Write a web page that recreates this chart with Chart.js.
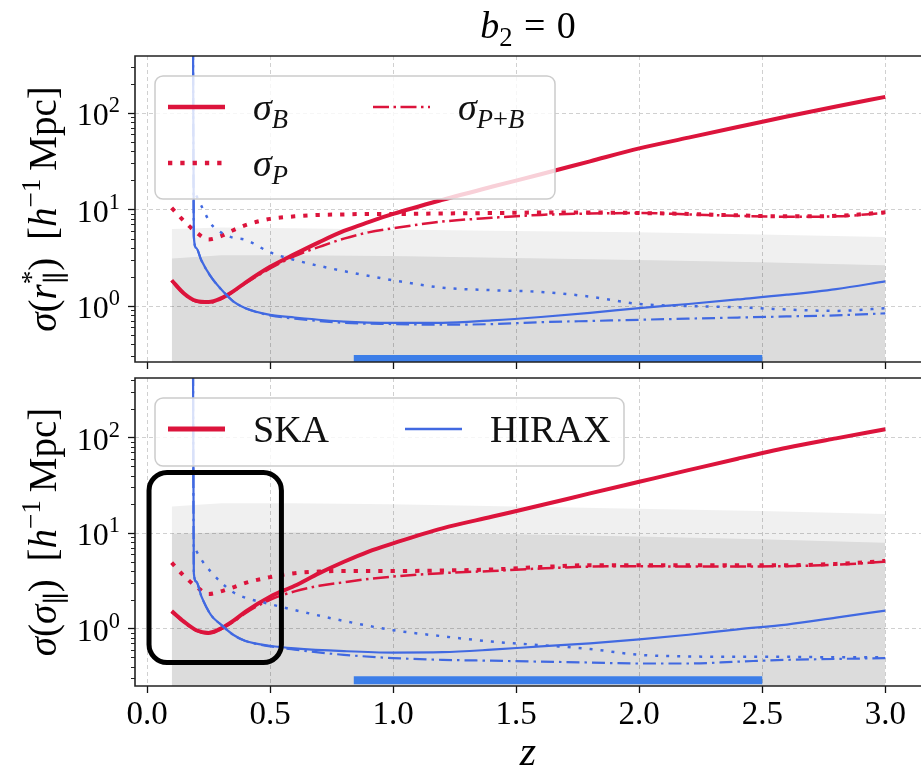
<!DOCTYPE html>
<html>
<head>
<meta charset="utf-8">
<title>b2 = 0</title>
<script src="https://cdn.jsdelivr.net/npm/chart.js"></script>
<style>
  html, body { margin: 0; padding: 0; background: #fff; overflow: hidden; }
  #wrap { position: relative; width: 921px; height: 774px; }
  canvas { position: absolute; left: 0; }
  #topChart { top: 0; }
  #bottomChart { top: 372px; }
</style>
</head>
<body>
<div id="wrap">
  <canvas id="topChart" width="921" height="372"></canvas>
  <canvas id="bottomChart" width="921" height="402"></canvas>
</div>

<script>
// ---- data ----
var zSka = [0.1, 0.15, 0.2, 0.25, 0.3, 0.35, 0.4, 0.5, 0.6, 0.7, 0.8, 0.9, 1.0, 1.2, 1.4, 1.6, 1.8, 2.0, 2.2, 2.4, 2.6, 2.8, 3.0];
var zHirax = [0.186, 0.19, 0.2, 0.22, 0.26, 0.3, 0.35, 0.4, 0.5, 0.6, 0.8, 1.0, 1.2, 1.4, 1.6, 1.8, 2.0, 2.2, 2.4, 2.6, 2.8, 3.0];
var zBand = [0.1, 0.3, 0.6, 1.0, 1.5, 2.0, 2.5, 3.0];
var zHiraxRange = [0.84, 2.5];

// top panel: sigma(r*_par)
var rSkaB  = [1.85, 1.35, 1.13, 1.1, 1.2, 1.42, 1.75, 2.55, 3.45, 4.6, 6.0, 7.4, 9.0, 12.6, 17.2, 23.2, 31.6, 43, 55.6, 71.6, 92, 117, 147];
var rSkaP  = [10.4, 7.6, 5.8, 4.9, 5.3, 6.1, 6.9, 8.0, 8.5, 8.8, 8.9, 9.0, 9.0, 9.1, 9.2, 9.3, 9.3, 9.2, 9.0, 8.7, 8.5, 8.6, 9.35];
var rSkaPB = [1.82, 1.33, 1.11, 1.08, 1.18, 1.4, 1.72, 2.45, 3.3, 4.1, 5.0, 5.8, 6.4, 7.5, 8.2, 8.8, 9.1, 9.2, 8.9, 8.6, 8.4, 8.5, 9.2];
var rHiraxB  = [3000, 5.3, 4.0, 3.0, 2.0, 1.5, 1.12, 0.95, 0.81, 0.76, 0.69, 0.67, 0.67, 0.71, 0.77, 0.85, 0.95, 1.05, 1.17, 1.31, 1.5, 1.8];
var rHiraxP  = [null, null, 14, 11, 7.1, 5.8, 5.1, 4.85, 3.6, 3.0, 2.3, 1.85, 1.55, 1.46, 1.4, 1.25, 1.05, 1.0, 0.97, 0.92, 0.89, 0.95];
var rHiraxPB = [3000, 5.3, 4.0, 3.0, 2.0, 1.5, 1.12, 0.95, 0.8, 0.74, 0.67, 0.65, 0.64, 0.65, 0.68, 0.7, 0.72, 0.74, 0.76, 0.78, 0.8, 0.84];
var rBandOuter = [6.3, 6.5, 6.4, 6.2, 6.0, 5.8, 5.5, 5.2];
var rBandInner = [3.1, 3.35, 3.35, 3.3, 3.15, 3.0, 2.85, 2.65];
var rRangeLevel = [0.282, 0.282];

// bottom panel: sigma(sigma_par)
var sSkaB  = [1.52, 1.18, 0.96, 0.9, 1.0, 1.2, 1.5, 2.15, 2.8, 3.8, 5.0, 6.4, 7.8, 11.2, 14.8, 19.5, 26, 34.4, 45.5, 60, 78, 98, 122];
var sSkaP  = [4.9, 3.55, 2.75, 2.3, 2.45, 2.7, 3.0, 3.45, 3.8, 3.95, 4.0, 4.0, 4.0, 4.05, 4.15, 4.4, 4.6, 4.6, 4.6, 4.6, 4.6, 4.75, 5.1];
var sSkaPB = [1.5, 1.16, 0.95, 0.88, 0.98, 1.17, 1.45, 2.0, 2.45, 2.8, 3.05, 3.3, 3.5, 3.8, 4.0, 4.25, 4.45, 4.5, 4.45, 4.45, 4.5, 4.65, 5.0];
var sHiraxB  = [3000, 3.8, 3.1, 2.2, 1.38, 1.1, 0.86, 0.74, 0.66, 0.62, 0.58, 0.56, 0.565, 0.6, 0.65, 0.7, 0.77, 0.86, 0.98, 1.1, 1.3, 1.54];
var sHiraxP  = [null, null, 6.5, 5.3, 3.9, 3.05, 2.4, 2.1, 1.8, 1.56, 1.2, 0.96, 0.83, 0.73, 0.67, 0.61, 0.53, 0.51, 0.505, 0.505, 0.5, 0.5];
var sHiraxPB = [3000, 3.8, 3.1, 2.2, 1.38, 1.1, 0.86, 0.74, 0.65, 0.6, 0.53, 0.49, 0.47, 0.46, 0.45, 0.44, 0.43, 0.43, 0.45, 0.47, 0.48, 0.49];
var sBandOuter = [19, 20.5, 20.5, 20, 19, 18, 17, 15.8];
var sBandInner = [9.8, 10.1, 10.1, 10, 9.7, 9.2, 8.6, 7.9];
var sRangeLevel = [0.288, 0.288];

// highlighted low-z box in the lower panel (z range, sigma range)
var zoomBoxZ = [0.008, 0.546];
var zoomBoxS = [0.44, 43];

var xTicks = [0, 0.5, 1, 1.5, 2, 2.5, 3];
var yMajor = [1, 10, 100];

// ---- styles ----
var RED = '#dc143c', BLUE = '#4169e1', BAR = '#3c7ee8';
var SERIF = '"Liberation Serif", "DejaVu Serif", serif';

function pts(z, v) {
    return z.map(function (x, i) { return { x: x, y: v[i] }; });
}
function curve(z, v, color, width, dash) {
    return {
        data: pts(z, v), borderColor: color, borderWidth: width, borderDash: dash || [],
        pointRadius: 0, fill: false, cubicInterpolationMode: 'monotone', order: 1
    };
}
function band(z, v, color) {
    return {
        data: pts(z, v), borderColor: 'transparent', borderWidth: 0, backgroundColor: color,
        pointRadius: 0, fill: 'start', order: 10
    };
}
function rangeBar(z, v) {
    return { data: pts(z, v), borderColor: BAR, borderWidth: 8, pointRadius: 0, fill: false, order: 5 };
}

var dotRed = [4.3, 8], dashDotRed = [16, 4.5, 2.5, 4.5];
var dotBlue = [3, 8], dashDotBlue = [13, 5, 2.5, 5];

// ---- rich text (italic / sub / sup) ----
function partFont(p, size) {
    var s = p.sc ? size * 0.7 : size;
    return (p.it ? 'italic ' : '') + s.toFixed(1) + 'px ' + SERIF;
}
function richWidth(ctx, parts, size) {
    var w = 0, held = 0;
    parts.forEach(function (p) {
        if (p.g) { w += p.g * size; return; }
        ctx.font = partFont(p, size);
        var pw = ctx.measureText(p.t).width;
        if (p.hold) { held = Math.max(held, pw); return; }
        w += Math.max(pw, held); held = 0;
    });
    return w;
}
function drawRich(ctx, parts, size, x, y) {
    var held = 0;
    ctx.textAlign = 'left';
    ctx.textBaseline = 'alphabetic';
    parts.forEach(function (p) {
        if (p.g) { x += p.g * size; return; }
        ctx.font = partFont(p, size);
        var dy = p.sc === 'sup' ? -0.4 * size : (p.sc === 'sub' ? 0.22 * size : 0);
        ctx.fillText(p.t, x, y + dy);
        var pw = ctx.measureText(p.t).width;
        if (p.hold) { held = Math.max(held, pw); return; }
        x += Math.max(pw, held); held = 0;
    });
}
function roundRect(ctx, x, y, w, h, r) {
    ctx.beginPath();
    ctx.moveTo(x + r, y);
    ctx.arcTo(x + w, y, x + w, y + h, r);
    ctx.arcTo(x + w, y + h, x, y + h, r);
    ctx.arcTo(x, y + h, x, y, r);
    ctx.arcTo(x, y, x + w, y, r);
    ctx.closePath();
}

// frame, minor ticks, y tick labels, y title, optional main title
function framePlugin(yTitle, mainTitle) {
    return {
        id: 'frame',
        afterDraw: function (chart) {
            var ctx = chart.ctx, a = chart.chartArea, ys = chart.scales.y;
            ctx.save();
            ctx.strokeStyle = '#222';
            ctx.lineWidth = 1.6;
            ctx.beginPath();
            ctx.moveTo(a.right + 2, a.top);
            ctx.lineTo(a.left, a.top);
            ctx.lineTo(a.left, a.bottom);
            ctx.lineTo(a.right + 2, a.bottom);
            ctx.stroke();

            // minor log ticks
            ctx.lineWidth = 1;
            ctx.beginPath();
            for (var e = -1; e <= 2; e++) {
                for (var k = 2; k <= 9; k++) {
                    var v = k * Math.pow(10, e);
                    if (v < ys.min || v > ys.max) continue;
                    var py = Math.round(ys.getPixelForValue(v)) + 0.5;
                    ctx.moveTo(a.left - 4, py);
                    ctx.lineTo(a.left, py);
                }
            }
            ctx.stroke();

            // major tick labels 10^n
            ctx.fillStyle = '#000';
            yMajor.forEach(function (v) {
                var parts = [{ t: '10' }, { t: String(Math.round(Math.log10(v))), sc: 'sup' }];
                var w = richWidth(ctx, parts, 32);
                drawRich(ctx, parts, 32, a.left - 15 - w, ys.getPixelForValue(v) + 12);
            });

            // rotated y title
            var tw = richWidth(ctx, yTitle, 39);
            ctx.save();
            ctx.translate(56, (a.top + a.bottom) / 2);
            ctx.rotate(-Math.PI / 2);
            drawRich(ctx, yTitle, 39, -tw / 2, 0);
            ctx.restore();

            if (mainTitle) {
                var mw = richWidth(ctx, mainTitle, 38);
                drawRich(ctx, mainTitle, 38, (a.left + a.right) / 2 - mw / 2, 38);
            }
            ctx.restore();
        }
    };
}

function legendPlugin(spec) {
    return {
        id: 'legendBox',
        afterDatasetsDraw: function (chart) {
            var ctx = chart.ctx, a = chart.chartArea;
            var x0 = a.left + spec.dx, y0 = a.top + spec.dy;
            ctx.save();
            roundRect(ctx, x0, y0, spec.w, spec.h, 8);
            ctx.fillStyle = 'rgba(255,255,255,0.8)';
            ctx.fill();
            ctx.strokeStyle = '#cccccc';
            ctx.lineWidth = 1.5;
            ctx.stroke();
            spec.items.forEach(function (it) {
                var hx = x0 + spec.cols[it.col], hy = y0 + spec.rows[it.row];
                ctx.beginPath();
                ctx.setLineDash(it.dash);
                ctx.lineWidth = it.width;
                ctx.strokeStyle = it.color;
                ctx.moveTo(hx, hy);
                ctx.lineTo(hx + 57, hy);
                ctx.stroke();
                ctx.setLineDash([]);
                ctx.fillStyle = '#111';
                drawRich(ctx, it.label, 38, hx + 85, hy + 13);
            });
            ctx.restore();
        }
    };
}

var zoomBoxPlugin = {
    id: 'zoomBox',
    afterDatasetsDraw: function (chart) {
        var ctx = chart.ctx, xs = chart.scales.x, ys = chart.scales.y;
        var x1 = xs.getPixelForValue(zoomBoxZ[0]), x2 = xs.getPixelForValue(zoomBoxZ[1]);
        var y1 = ys.getPixelForValue(zoomBoxS[1]), y2 = ys.getPixelForValue(zoomBoxS[0]);
        ctx.save();
        roundRect(ctx, x1, y1, x2 - x1, y2 - y1, 18);
        ctx.strokeStyle = '#000';
        ctx.lineWidth = 5;
        ctx.stroke();
        ctx.restore();
    }
};

function axes(showLabels, yMin, yMax, xHeight) {
    var grid = { color: '#d0d0d0', lineWidth: 1, tickLength: 7, tickColor: '#111', tickWidth: 1.3 };
    var border = { display: false, dash: [4, 3] };
    return {
        x: {
            type: 'linear', min: -0.049, max: 3.145,
            afterBuildTicks: function (s) { s.ticks = xTicks.map(function (v) { return { value: v }; }); },
            afterFit: function (s) { s.height = xHeight; },
            ticks: {
                display: showLabels, autoSkip: false, maxRotation: 0, padding: 3, color: '#000',
                font: { family: SERIF, size: 33 },
                callback: function (v) { return Number(v).toFixed(1); }
            },
            grid: grid, border: border,
            title: {
                display: showLabels, text: 'z', color: '#000', padding: { top: 0, bottom: 0 },
                font: { family: SERIF, style: 'italic', size: 42, lineHeight: 0.95 }
            }
        },
        y: {
            type: 'logarithmic', min: yMin, max: yMax,
            afterBuildTicks: function (s) { s.ticks = yMajor.map(function (v) { return { value: v }; }); },
            afterFit: function (s) { s.width = 135; },
            ticks: { display: false },
            grid: grid, border: border
        }
    };
}

function baseOptions(showLabels, yMin, yMax, xHeight, padTop) {
    return {
        responsive: false,
        animation: false,
        events: [],
        layout: { padding: { top: padTop, left: 0, right: 0, bottom: 0 } },
        plugins: { legend: { display: false }, tooltip: { enabled: false }, title: { display: false } },
        scales: axes(showLabels, yMin, yMax, xHeight)
    };
}

// ---- top panel ----
new Chart(document.getElementById('topChart'), {
    type: 'line',
    data: {
        datasets: [
            band(zBand, rBandOuter, 'rgba(0,0,0,0.06)'),
            band(zBand, rBandInner, 'rgba(0,0,0,0.085)'),
            rangeBar(zHiraxRange, rRangeLevel),
            curve(zHirax, rHiraxP, BLUE, 2.5, dotBlue),
            curve(zHirax, rHiraxPB, BLUE, 2.2, dashDotBlue),
            curve(zHirax, rHiraxB, BLUE, 2.2),
            curve(zSka, rSkaP, RED, 4, dotRed),
            curve(zSka, rSkaPB, RED, 2.5, dashDotRed),
            curve(zSka, rSkaB, RED, 4)
        ]
    },
    options: baseOptions(false, 0.263, 390, 10, 56),
    plugins: [
        legendPlugin({
            dx: 20, dy: 20, w: 400, h: 123, cols: [13, 218], rows: [31, 87],
            items: [
                { col: 0, row: 0, color: RED, width: 4.5, dash: [], label: [{ t: 'σ', it: 1 }, { t: 'B', it: 1, sc: 'sub' }] },
                { col: 0, row: 1, color: RED, width: 4.5, dash: dotRed, label: [{ t: 'σ', it: 1 }, { t: 'P', it: 1, sc: 'sub' }] },
                { col: 1, row: 0, color: RED, width: 2.5, dash: dashDotRed, label: [{ t: 'σ', it: 1 }, { t: 'P', it: 1, sc: 'sub' }, { t: '+', sc: 'sub' }, { t: 'B', it: 1, sc: 'sub' }] }
            ]
        }),
        framePlugin(
            [{ t: 'σ', it: 1 }, { t: '(' }, { t: 'r', it: 1 }, { t: '*', sc: 'sup', hold: 1 }, { t: '∥', sc: 'sub' }, { t: ')' }, { g: 0.45 },
             { t: '[' }, { t: 'h', it: 1 }, { t: '−1', sc: 'sup' }, { g: 0.2 }, { t: 'Mpc' }, { t: ']' }],
            [{ t: 'b', it: 1 }, { t: '2', sc: 'sub' }, { g: 0.3 }, { t: '=' }, { g: 0.3 }, { t: '0' }]
        )
    ]
});

// ---- bottom panel ----
new Chart(document.getElementById('bottomChart'), {
    type: 'line',
    data: {
        datasets: [
            band(zBand, sBandOuter, 'rgba(0,0,0,0.06)'),
            band(zBand, sBandInner, 'rgba(0,0,0,0.085)'),
            rangeBar(zHiraxRange, sRangeLevel),
            curve(zHirax, sHiraxP, BLUE, 2.5, dotBlue),
            curve(zHirax, sHiraxPB, BLUE, 2.2, dashDotBlue),
            curve(zHirax, sHiraxB, BLUE, 2.2),
            curve(zSka, sSkaP, RED, 4, dotRed),
            curve(zSka, sSkaPB, RED, 2.5, dashDotRed),
            curve(zSka, sSkaB, RED, 4)
        ]
    },
    options: baseOptions(true, 0.25, 420, 88, 6),
    plugins: [
        zoomBoxPlugin,
        legendPlugin({
            dx: 20, dy: 20, w: 469, h: 68, cols: [13, 250], rows: [31],
            items: [
                { col: 0, row: 0, color: RED, width: 5, dash: [], label: [{ t: 'SKA' }] },
                { col: 1, row: 0, color: BLUE, width: 2.7, dash: [], label: [{ t: 'HIRAX' }] }
            ]
        }),
        framePlugin(
            [{ t: 'σ', it: 1 }, { t: '(' }, { t: 'σ', it: 1 }, { t: '∥', sc: 'sub' }, { t: ')' }, { g: 0.45 },
             { t: '[' }, { t: 'h', it: 1 }, { t: '−1', sc: 'sup' }, { g: 0.2 }, { t: 'Mpc' }, { t: ']' }],
            null
        )
    ]
});
</script>
</body>
</html>
